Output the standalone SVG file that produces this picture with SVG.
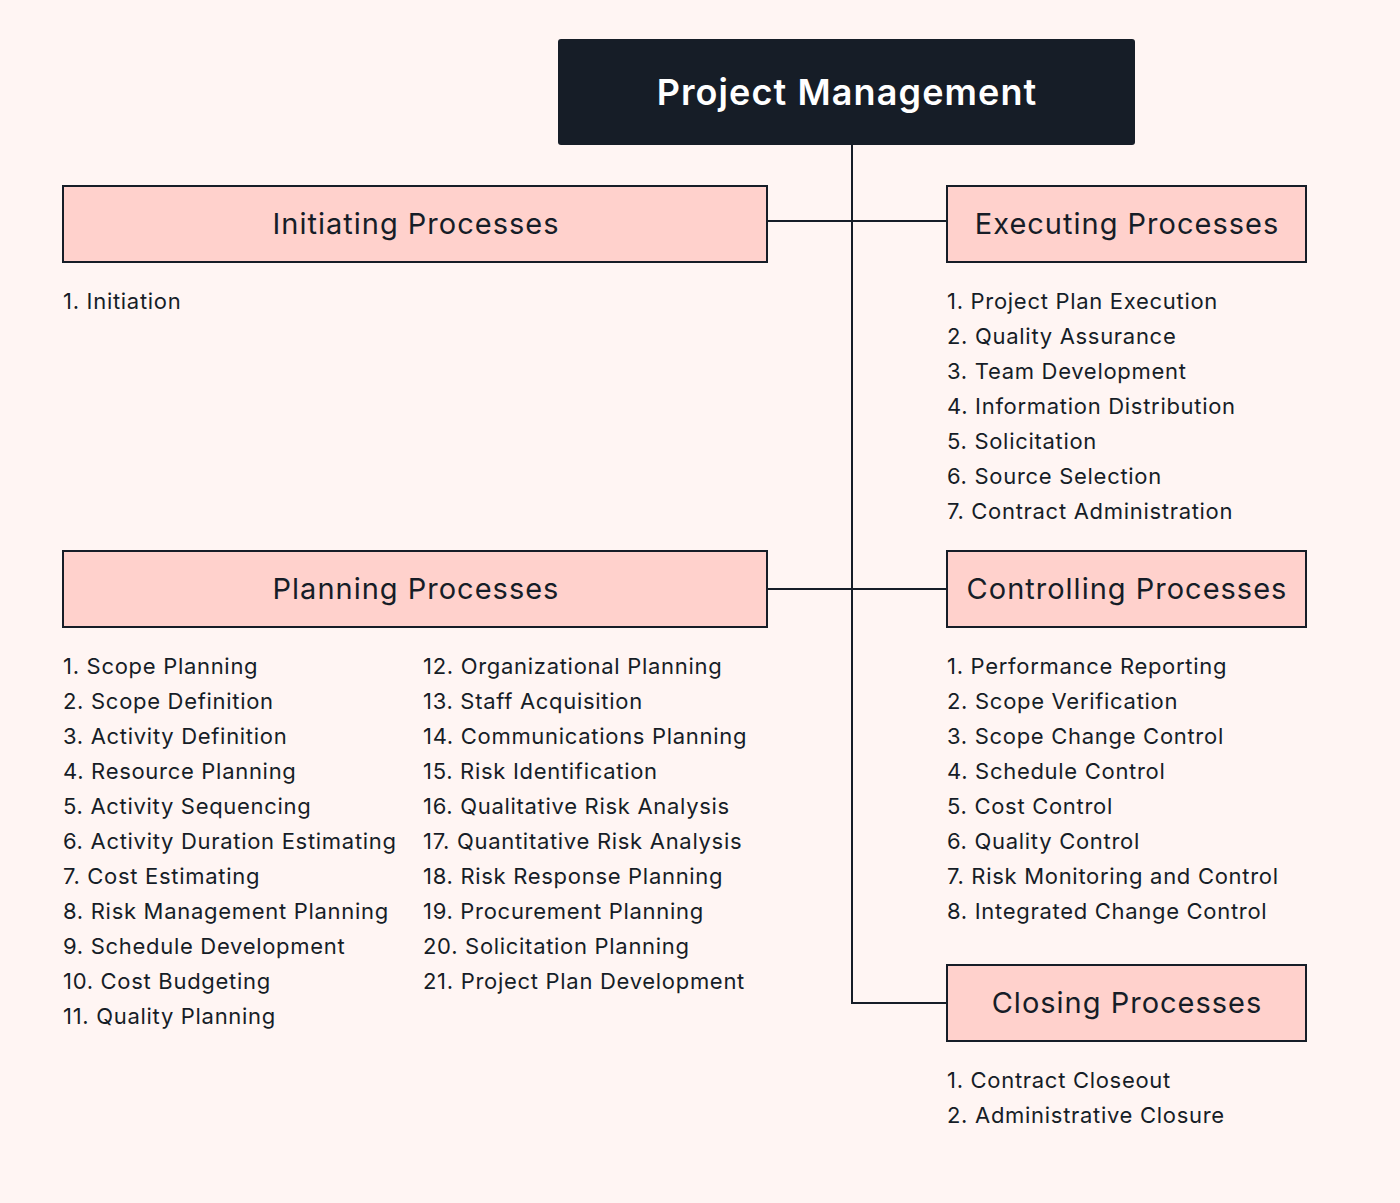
<svg xmlns="http://www.w3.org/2000/svg" width="1400" height="1203" viewBox="0 0 1400 1203">
<style>
.bg{fill:#fff5f3}
.hdr{fill:#ffd1cc;stroke:#161d27;stroke-width:2}
.ht{font-family:Inter,"Noto Sans",sans-serif;font-size:29px;fill:#161d27;text-anchor:middle;letter-spacing:1px}
.tt{font-family:Inter,"Noto Sans",sans-serif;font-size:36px;font-weight:600;fill:#ffffff;text-anchor:middle;letter-spacing:1.1px}
.li{font-family:Inter,"Noto Sans",sans-serif;font-size:22px;fill:#161d27;letter-spacing:0.7px}
.cn{stroke:#161d27;stroke-width:2;fill:none}
</style>
<rect class="bg" x="0" y="0" width="1400" height="1203"/>
<g id="connectors">
<path class="cn" d="M852 145 V1003 H947"/>
<path class="cn" d="M767 221 H947"/>
<path class="cn" d="M767 589 H947"/>
</g>
<g id="root">
<rect x="558" y="39" width="577" height="106" rx="3" fill="#161d27"/>
<text class="tt" x="847" y="105">Project Management</text>
</g>
<g id="initiating">
<rect class="hdr" x="63" y="186" width="704" height="76"/>
<text class="ht" x="416" y="234">Initiating Processes</text>
<text class="li" x="63" y="309">1. Initiation</text>
</g>
<g id="executing">
<rect class="hdr" x="947" y="186" width="359" height="76"/>
<text class="ht" x="1127" y="234">Executing Processes</text>
<text class="li" x="947" y="309">1. Project Plan Execution</text>
<text class="li" x="947" y="344">2. Quality Assurance</text>
<text class="li" x="947" y="379">3. Team Development</text>
<text class="li" x="947" y="414">4. Information Distribution</text>
<text class="li" x="947" y="449">5. Solicitation</text>
<text class="li" x="947" y="484">6. Source Selection</text>
<text class="li" x="947" y="519">7. Contract Administration</text>
</g>
<g id="planning">
<rect class="hdr" x="63" y="551" width="704" height="76"/>
<text class="ht" x="416" y="599">Planning Processes</text>
<text class="li" x="63" y="674">1. Scope Planning</text>
<text class="li" x="63" y="709">2. Scope Definition</text>
<text class="li" x="63" y="744">3. Activity Definition</text>
<text class="li" x="63" y="779">4. Resource Planning</text>
<text class="li" x="63" y="814">5. Activity Sequencing</text>
<text class="li" x="63" y="849">6. Activity Duration Estimating</text>
<text class="li" x="63" y="884">7. Cost Estimating</text>
<text class="li" x="63" y="919">8. Risk Management Planning</text>
<text class="li" x="63" y="954">9. Schedule Development</text>
<text class="li" x="63" y="989">10. Cost Budgeting</text>
<text class="li" x="63" y="1024">11. Quality Planning</text>
<text class="li" x="423" y="674">12. Organizational Planning</text>
<text class="li" x="423" y="709">13. Staff Acquisition</text>
<text class="li" x="423" y="744">14. Communications Planning</text>
<text class="li" x="423" y="779">15. Risk Identification</text>
<text class="li" x="423" y="814">16. Qualitative Risk Analysis</text>
<text class="li" x="423" y="849">17. Quantitative Risk Analysis</text>
<text class="li" x="423" y="884">18. Risk Response Planning</text>
<text class="li" x="423" y="919">19. Procurement Planning</text>
<text class="li" x="423" y="954">20. Solicitation Planning</text>
<text class="li" x="423" y="989">21. Project Plan Development</text>
</g>
<g id="controlling">
<rect class="hdr" x="947" y="551" width="359" height="76"/>
<text class="ht" x="1127" y="599">Controlling Processes</text>
<text class="li" x="947" y="674">1. Performance Reporting</text>
<text class="li" x="947" y="709">2. Scope Verification</text>
<text class="li" x="947" y="744">3. Scope Change Control</text>
<text class="li" x="947" y="779">4. Schedule Control</text>
<text class="li" x="947" y="814">5. Cost Control</text>
<text class="li" x="947" y="849">6. Quality Control</text>
<text class="li" x="947" y="884">7. Risk Monitoring and Control</text>
<text class="li" x="947" y="919">8. Integrated Change Control</text>
</g>
<g id="closing">
<rect class="hdr" x="947" y="965" width="359" height="76"/>
<text class="ht" x="1127" y="1013">Closing Processes</text>
<text class="li" x="947" y="1088">1. Contract Closeout</text>
<text class="li" x="947" y="1123">2. Administrative Closure</text>
</g>
</svg>
